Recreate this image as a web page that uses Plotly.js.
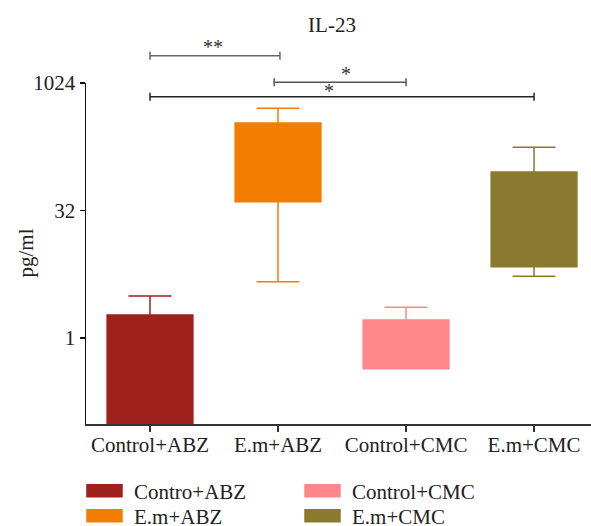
<!DOCTYPE html>
<html>
<head>
<meta charset="utf-8">
<script src="https://cdn.plot.ly/plotly-3.0.1.min.js"></script>
<style>
  html, body { margin: 0; padding: 0; background: #fff; }
  #chart { width: 591px; height: 526px; }
</style>
</head>
<body>
<div id="chart"></div>
<script>
// ---- data ----
const categories = ['Control+ABZ', 'E.m+ABZ', 'Control+CMC', 'E.m+CMC'];
const legendNames = ['Contro+ABZ', 'E.m+ABZ', 'Control+CMC', 'E.m+CMC'];
const lowerWhisker = [0.01, 4.62, 0.434, 5.35];
const q1 = [0.01, 40.6, 0.434, 6.95];
const q3 = [1.87, 345, 1.63, 91];
const upperWhisker = [3.13, 515, 2.30, 178];
const colors = ['#9E211B', '#F27D00', '#FF878C', '#8B7A2D'];
const legendIds = ['legend', 'legend2', 'legend3', 'legend4'];
const yTickVals = [1, 32, 1024];
const yTickText = ['1', '32', '1024'];
const sigLabels = ['**', '*', '*'];

const FONT = 'Liberation Serif, Times New Roman, serif';
const TXT = '#222222';
const FS = 21;

const traces = categories.map((c, i) => ({
  type: 'box',
  name: legendNames[i],
  legend: legendIds[i],
  x: [c],
  q1: [q1[i]],
  median: [q3[i]],
  q3: [q3[i]],
  lowerfence: [lowerWhisker[i]],
  upperfence: [upperWhisker[i]],
  width: 0.67,
  whiskerwidth: 0.5,
  fillcolor: colors[i],
  line: { color: colors[i], width: 1.5 },
  boxpoints: false,
  hoverinfo: 'skip'
}));

// helper: plot pixel y -> paper (plot top 83px, bottom 424px)
const P = (py) => (424 - py) / 341;

const brackets = [
  { x0: 0, x1: 1.015, y: P(55.7), color: '#666666' },
  { x0: 0.97, x1: 2, y: P(82.3), color: '#555555' },
  { x0: 0, x1: 3, y: P(96.7), color: '#222222' }
];
const shapes = [];
brackets.forEach(b => {
  const h = 4 / 341;
  shapes.push({ type: 'line', xref: 'x', yref: 'paper', x0: b.x0, x1: b.x1, y0: b.y, y1: b.y, line: { color: b.color, width: 1.5 } });
  shapes.push({ type: 'line', xref: 'x', yref: 'paper', x0: b.x0, x1: b.x0, y0: b.y - h, y1: b.y + h, line: { color: b.color, width: 1.5 } });
  shapes.push({ type: 'line', xref: 'x', yref: 'paper', x0: b.x1, x1: b.x1, y0: b.y - h, y1: b.y + h, line: { color: b.color, width: 1.5 } });
});

const starPos = [
  { x: 0.49, y: P(47) },
  { x: 1.53, y: P(74) },
  { x: 1.40, y: P(90.5) }
];
const annotations = starPos.map((p, i) => ({
  xref: 'x', yref: 'paper', x: p.x, y: p.y,
  text: sigLabels[i], showarrow: false,
  xanchor: 'center', yanchor: 'middle',
  font: { family: FONT, size: 20, color: '#333333' }
}));
// y-axis title as rotated text
annotations.push({
  xref: 'paper', yref: 'paper', x: (25 - 86) / 505, y: 0.5,
  xanchor: 'center', yanchor: 'middle', textangle: -90,
  text: 'pg/ml', showarrow: false,
  font: { family: FONT, size: FS, color: TXT }
});

const legendBase = {
  orientation: 'v',
  xref: 'container', yref: 'container',
  xanchor: 'left', yanchor: 'middle',
  itemwidth: 40,
  font: { family: FONT, size: FS, color: TXT },
  bgcolor: 'rgba(0,0,0,0)'
};
const legendPos = [
  { x: 84, y: 491 }, { x: 84, y: 516 }, { x: 302, y: 491 }, { x: 302, y: 516 }
];

const layout = {
  width: 591,
  height: 526,
  margin: { l: 86, r: 0, t: 83, b: 102, autoexpand: false },
  paper_bgcolor: '#ffffff',
  plot_bgcolor: '#ffffff',
  font: { family: FONT, size: FS, color: TXT },
  title: {
    text: 'IL-23',
    font: { family: FONT, size: FS, color: TXT },
    xref: 'container', yref: 'container',
    x: 332 / 591, xanchor: 'center',
    y: 1 - 25 / 526, yanchor: 'middle'
  },
  boxmode: 'overlay',
  xaxis: {
    type: 'category',
    categoryorder: 'array',
    categoryarray: categories,
    range: [-0.5, 3.445],
    automargin: false,
    tickangle: 0,
    showline: true, linecolor: '#333333', linewidth: 1.5,
    ticks: 'outside', ticklen: 6, tickwidth: 1.5, tickcolor: '#333333',
    ticklabelstandoff: -5,
    showgrid: false, zeroline: false,
    tickfont: { family: FONT, size: FS, color: TXT }
  },
  yaxis: {
    type: 'log',
    automargin: false,
    range: [Math.log10(Math.pow(2, -3.373)), Math.log10(1024)],
    tickvals: yTickVals, ticktext: yTickText,
    showline: true, linecolor: '#111111', linewidth: 1.5,
    ticks: 'outside', ticklen: 5, tickwidth: 1.5, tickcolor: '#111111',
    showgrid: false, zeroline: false,
    tickfont: { family: FONT, size: FS, color: TXT }
  },
  showlegend: true,
  shapes: shapes,
  annotations: annotations
};
legendIds.forEach((id, i) => {
  layout[id] = Object.assign({}, legendBase, {
    x: legendPos[i].x / 591,
    y: 1 - legendPos[i].y / 526
  });
});

Plotly.newPlot('chart', traces, layout, { displayModeBar: false, staticPlot: true }).then(() => {
  document.querySelectorAll('.legendpoints path').forEach(p => {
    p.setAttribute('d', 'M13,6H-22V-6H13Z');
  });
});
</script>
</body>
</html>
